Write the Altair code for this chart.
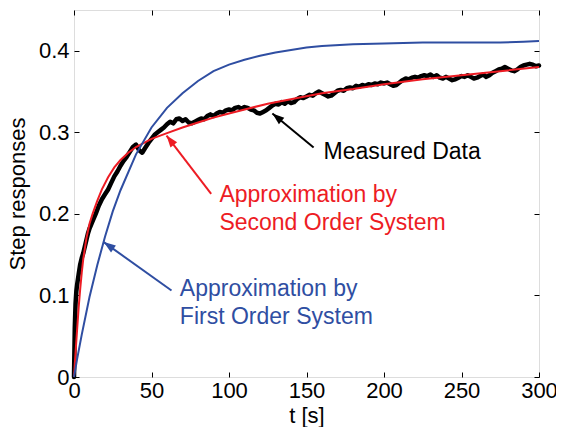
import altair as alt
import pandas as pd

RED = "#ED1C24"
BLUE = "#2F4EA2"
FONT = "Liberation Sans"

t_meas = [0, 0.5, 1, 1.5, 2, 3, 4, 5, 6, 7, 8, 9, 10, 12, 14, 16, 18, 20, 22, 24, 26, 28,
          30, 32, 34, 36, 38, 40, 42, 44, 46, 48, 50, 52, 54, 56, 58, 60, 62, 64, 66, 68,
          70, 72, 74, 76, 78, 80, 82, 84, 86, 88, 90, 92, 94, 96, 98, 100, 102, 104, 106,
          108, 110, 112, 114, 116, 118, 120, 122, 124, 126, 128, 130, 132, 134, 136, 138,
          140, 142, 144, 146, 148, 150, 152, 154, 156, 158, 160, 162, 164, 166, 168, 170,
          172, 174, 176, 178, 180, 182, 184, 186, 188, 190, 192, 194, 196, 198, 200, 202,
          204, 206, 208, 210, 212, 214, 216, 218, 220, 222, 224, 226, 228, 230, 232, 234,
          236, 238, 240, 242, 244, 246, 248, 250, 252, 254, 256, 258, 260, 262, 264, 266,
          268, 270, 272, 274, 276, 278, 280, 282, 284, 286, 288, 290, 292, 294, 296, 298, 300]
v_meas = [0.0, 0.060, 0.090, 0.105, 0.113, 0.126, 0.138, 0.146, 0.152, 0.160, 0.168, 0.176,
          0.182, 0.191, 0.200, 0.210, 0.218, 0.224, 0.230, 0.238, 0.246, 0.252, 0.259, 0.265,
          0.270, 0.276, 0.282, 0.285, 0.278, 0.275, 0.281, 0.287, 0.292, 0.297, 0.300, 0.303,
          0.306, 0.310, 0.313, 0.311, 0.316, 0.317, 0.314, 0.316, 0.312, 0.311, 0.313, 0.315,
          0.317, 0.316, 0.320, 0.322, 0.320, 0.323, 0.325, 0.324, 0.327, 0.328, 0.327, 0.330,
          0.331, 0.329, 0.331, 0.330, 0.328, 0.327, 0.324, 0.323, 0.325, 0.327, 0.330, 0.333,
          0.335, 0.334, 0.337, 0.335, 0.338, 0.336, 0.337, 0.341, 0.343, 0.342, 0.344, 0.346,
          0.345, 0.348, 0.350, 0.348, 0.346, 0.344, 0.345, 0.348, 0.351, 0.352, 0.351, 0.354,
          0.355, 0.354, 0.357, 0.356, 0.358, 0.357, 0.359, 0.358, 0.360, 0.359, 0.361, 0.360,
          0.361, 0.359, 0.357, 0.358, 0.361, 0.364, 0.366, 0.365, 0.367, 0.368, 0.367, 0.369,
          0.370, 0.369, 0.371, 0.368, 0.370, 0.367, 0.366, 0.368, 0.366, 0.364, 0.365, 0.367,
          0.369, 0.368, 0.370, 0.368, 0.366, 0.367, 0.369, 0.371, 0.368, 0.370, 0.373, 0.375,
          0.377, 0.378, 0.380, 0.378, 0.376, 0.375, 0.377, 0.380, 0.382, 0.383, 0.384, 0.383,
          0.381, 0.382]

# ---- First order approximation ----
t_first = [0, 2, 5, 10, 15, 20, 25, 30, 40, 50, 60, 70, 80, 90, 100, 110, 120, 130, 140,
           150, 160, 180, 200, 225, 250, 275, 290, 300]
v_first = [0.0, 0.022, 0.052, 0.098, 0.137, 0.172, 0.203, 0.229, 0.273, 0.306, 0.330, 0.348,
           0.363, 0.375, 0.383, 0.389, 0.394, 0.398, 0.401, 0.404, 0.406, 0.408, 0.409, 0.410,
           0.410, 0.410, 0.411, 0.412]

# ---- Second order approximation ----
t_second = [0, 1, 2, 3, 4, 5, 6, 8, 10, 12, 15, 18, 22, 26, 30, 35, 40, 50, 60, 70, 80, 90,
            100, 112, 125, 144, 160, 180, 200, 225, 250, 275, 300]
v_second = [0.0, 0.030, 0.058, 0.085, 0.108, 0.128, 0.145, 0.170, 0.188, 0.200, 0.216, 0.230,
            0.245, 0.257, 0.266, 0.275, 0.282, 0.292, 0.299, 0.306, 0.312, 0.318, 0.323, 0.329,
            0.335, 0.342, 0.348, 0.353, 0.359, 0.365, 0.370, 0.375, 0.380]

# ---- Annotations ----
ann_text = ["Measured Data", "Approximation by", "Second Order System",
            "Approximation by", "First Order System"]
ann_t = [161, 93.8, 93.8, 68.3, 68.3]
ann_v = [0.2677, 0.2143, 0.1797, 0.099, 0.0648]
ann_color = ["black", RED, RED, BLUE, BLUE]

arr_t_tail = [154.6, 88.5, 62.9]
arr_v_tail = [0.2815, 0.2246, 0.106]
arr_t_tip = [128.0, 59.7, 19.2]
arr_v_tip = [0.323, 0.296, 0.1654]
arr_angle = [309, 322, 305]
arr_color = ["black", RED, BLUE]

x_ticks = [0, 50, 100, 150, 200, 250, 300]
y_ticks = [0, 0.1, 0.2, 0.3, 0.4]

meas = pd.DataFrame({"t": t_meas, "v": v_meas})
first = pd.DataFrame({"t": t_first, "v": v_first})
second = pd.DataFrame({"t": t_second, "v": v_second})
ann = pd.DataFrame({"t": ann_t, "v": ann_v, "label": ann_text, "c": ann_color})
arr = pd.DataFrame({"t": arr_t_tail, "v": arr_v_tail, "t2": arr_t_tip, "v2": arr_v_tip,
                    "ang": arr_angle, "c": arr_color})
tips = pd.DataFrame({"t": arr_t_tip, "v": arr_v_tip, "ang": arr_angle, "c": arr_color})

xscale = alt.Scale(domain=[0, 300], nice=False, zero=False)
yscale = alt.Scale(domain=[0, 0.45], nice=False, zero=False)

xaxis = alt.Axis(values=x_ticks, offset=-5, tickSize=5, domain=False, labelPadding=3,
                 labelFontSize=22, labelFont=FONT, labelColor="black", tickColor="black",
                 labelFlush=False, grid=False, titleFont=FONT, titleFontSize=22,
                 titleFontWeight="normal", titleColor="black", titlePadding=4)
yaxis = alt.Axis(values=y_ticks, offset=-5, tickSize=5, domain=False, labelPadding=5,
                 labelFontSize=22, labelFont=FONT, labelColor="black", tickColor="black",
                 labelFlush=False, grid=False, titleFont=FONT, titleFontSize=22,
                 titleFontWeight="normal", titleColor="black", titlePadding=9, format=".1~f")

X = alt.X("t:Q", scale=xscale, axis=xaxis, title="t [s]")
Y = alt.Y("v:Q", scale=yscale, axis=yaxis, title="Step responses")

black_line = alt.Chart(meas).mark_line(color="black", strokeWidth=4.5, strokeJoin="round",
                                       strokeCap="round").encode(x=X, y=Y)
red_line = alt.Chart(second).mark_line(color=RED, strokeWidth=2).encode(x=X, y=Y)
blue_line = alt.Chart(first).mark_line(color=BLUE, strokeWidth=2).encode(x=X, y=Y)

shafts = alt.Chart(arr).mark_rule(strokeWidth=2).encode(
    x=X, y=Y, x2="t2:Q", y2="v2:Q", color=alt.Color("c:N", scale=None))
heads = alt.Chart(tips).mark_point(
    shape="M0,0L0.36,1L-0.36,1Z", size=560, filled=True, opacity=1).encode(
    x=X, y=Y, angle=alt.Angle("ang:Q", scale=None), color=alt.Color("c:N", scale=None))
texts = alt.Chart(ann).mark_text(align="left", baseline="alphabetic", fontSize=23,
                                 font=FONT).encode(
    x=X, y=Y, text="label:N", color=alt.Color("c:N", scale=None))

main = alt.layer(black_line, red_line, blue_line, shafts, heads, texts)

x_top = alt.X("t:Q", scale=xscale, title="",
              axis=alt.Axis(orient="top", values=x_ticks, labels=False, offset=-5, tickSize=5,
                            domain=False, grid=False, tickColor="black"))
y_right = alt.Y("v:Q", scale=yscale, title="",
                axis=alt.Axis(orient="right", values=y_ticks, labels=False, offset=-5,
                              tickSize=5, domain=False, grid=False, tickColor="black"))
dummy = alt.Chart(first).mark_point(opacity=0).encode(x=x_top, y=y_right)

chart = alt.layer(main, dummy).resolve_axis(x="independent", y="independent").properties(
    width=465, height=367,
    autosize=alt.AutoSizeParams(type="none"),
    padding={"left": 66, "top": 2, "right": 17, "bottom": 50},
).configure_view(stroke="black", strokeWidth=1.2).configure(background="white")

chart.save("out.html", embed_options={"renderer": "svg", "actions": False})
